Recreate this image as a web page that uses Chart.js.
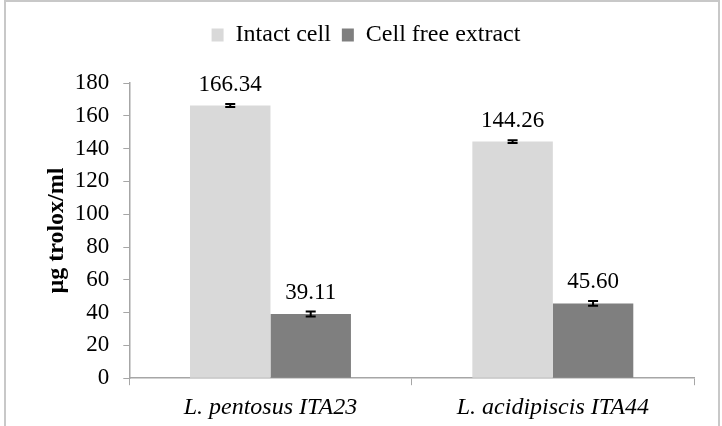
<!DOCTYPE html>
<html>
<head>
<meta charset="utf-8">
<script src="https://cdn.jsdelivr.net/npm/chart.js@4/dist/chart.umd.min.js"></script>
<style>
body{margin:0;background:#fff}
#wrap{position:absolute;left:4px;top:0;width:716px;height:426px;border:2px solid #c8c8c8;border-bottom:none;box-sizing:border-box}
canvas{display:block}
</style>
</head>
<body>
<div id="wrap"><canvas id="grafico" width="712" height="424"></canvas></div>
<script>
let cepas = ["L. pentosus ITA23","L. acidipiscis ITA44"]
let intacta = [166.34,144.26]
let extrato = [39.11,45.60]
let erroIntacta = [0.9,0.8]
let erroExtrato = [1.5,1.4]
let ticksY = [0,20,40,60,80,100,120,140,160,180]

let fonte = "'Liberation Serif', serif"
Chart.defaults.font.family = fonte
Chart.defaults.color = "#000"

let barrasErro = {
id:"barrasErro",
afterDatasetsDraw(chart){
let ctx = chart.ctx
let y = chart.scales.y
let erros = [erroIntacta,erroExtrato]
ctx.save()
chart.data.datasets.forEach((ds,i)=>{
let meta = chart.getDatasetMeta(i)
meta.data.forEach((bar,j)=>{
let v = ds.data[j]
let e = erros[i][j]
let yt = y.getPixelForValue(v+e)
let yb = y.getPixelForValue(v-e)
ctx.strokeStyle = "#000"
ctx.lineWidth = 2
ctx.beginPath()
ctx.moveTo(bar.x,yt);ctx.lineTo(bar.x,yb)
ctx.moveTo(bar.x-5,yt);ctx.lineTo(bar.x+5,yt)
ctx.moveTo(bar.x-5,yb);ctx.lineTo(bar.x+5,yb)
ctx.stroke()
ctx.fillStyle = "#000"
ctx.font = "23px " + fonte
ctx.textAlign = "center"
ctx.textBaseline = "alphabetic"
ctx.fillText(v.toFixed(2),bar.x,yt-13)
})
})
ctx.restore()
}
}

let margemLegenda = {
id:"margemLegenda",
beforeInit(chart){
let fit = chart.legend.fit
chart.legend.fit = function(){
fit.bind(chart.legend)()
this.height += 26
}
}
}

new Chart(document.getElementById("grafico"),{
type:"bar",
data:{
labels:cepas,
datasets:[
{label:"Intact cell",data:intacta,backgroundColor:"#d9d9d9",categoryPercentage:0.57,barPercentage:1},
{label:"Cell free extract",data:extrato,backgroundColor:"#7f7f7f",categoryPercentage:0.57,barPercentage:1}
]
},
options:{
responsive:false,
animation:false,
devicePixelRatio:1,
layout:{padding:{left:32,right:24,top:10,bottom:-4}},
plugins:{
legend:{
position:"top",
labels:{color:"#000",font:{size:24},boxWidth:12,boxHeight:13,padding:11}
},
tooltip:{enabled:false}
},
scales:{
x:{
grid:{offset:true,drawOnChartArea:false,tickLength:7,color:"#a6a6a6"},
border:{color:"#a6a6a6",width:1.5},
ticks:{color:"#000",font:{size:24,style:"italic"},padding:8}
},
y:{
min:0,max:180,
afterBuildTicks(axis){axis.ticks = ticksY.map(v=>({value:v}))},
grid:{drawOnChartArea:false,tickLength:6,color:"#a6a6a6"},
border:{color:"#a6a6a6",width:1.5},
ticks:{color:"#000",font:{size:23},padding:14},
title:{display:true,text:"µg trolox/ml",color:"#000",font:{size:24,weight:"bold"},padding:{top:4,bottom:-10}}
}
}
},
plugins:[barrasErro,margemLegenda]
})
</script>
</body>
</html>
